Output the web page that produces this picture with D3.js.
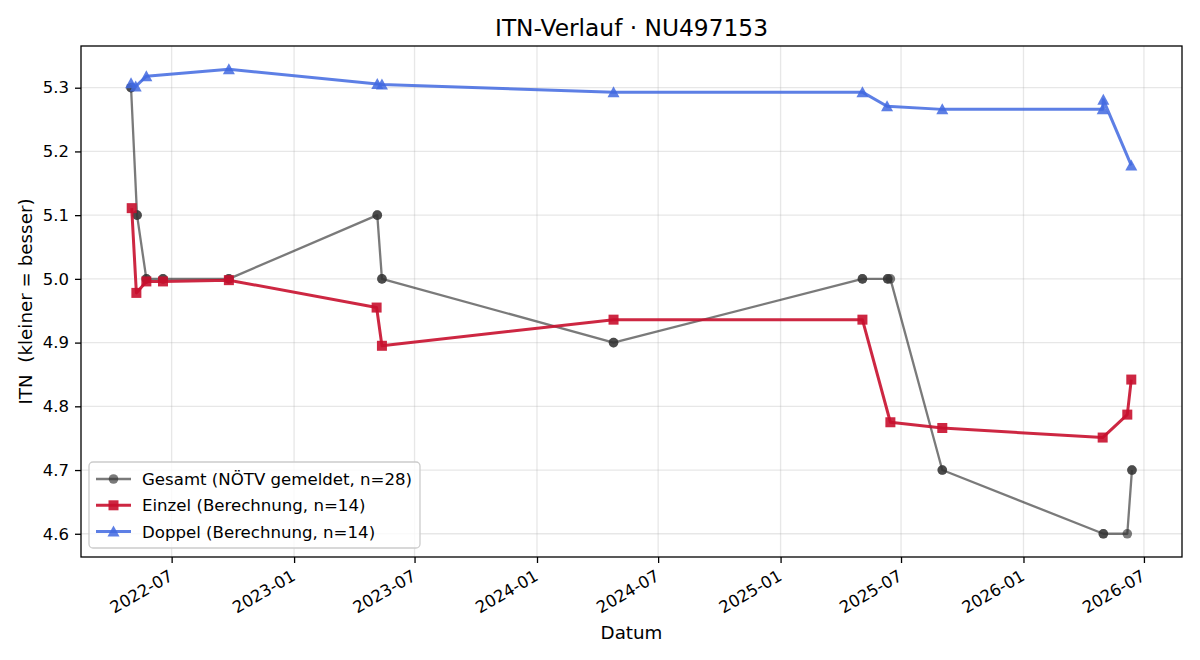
<!DOCTYPE html>
<html>
<head>
<meta charset="utf-8">
<script src="https://cdn.jsdelivr.net/npm/d3@7"></script>
<style>
body{margin:0;background:#fff;}
text{font-family:"DejaVu Sans",sans-serif;fill:#000;}
</style>
</head>
<body>
<div id="container"></div>
<script>
let w = 1200;
let h = 660;
let pLeft = 81, pRight = 1182, pTop = 46, pBottom = 557;

// DATA
// Gesamt: every report, so most dates show up twice (singles + doubles)
let gesamtDates = ["2022-05-01","2022-05-01","2022-05-10","2022-05-10","2022-05-24","2022-05-24",
  "2022-06-18","2022-06-18","2022-09-25","2022-09-25","2023-05-06","2023-05-06","2023-05-13","2023-05-13",
  "2024-04-25","2024-04-25","2025-05-04","2025-05-04","2025-06-11","2025-06-11","2025-06-15",
  "2025-09-01","2025-09-01","2026-05-01","2026-05-01","2026-06-06","2026-06-13","2026-06-13"];
let gesamtValues = [5.3,5.3,5.1,5.1,5.0,5.0,5.0,5.0,5.0,5.0,5.1,5.1,5.0,5.0,
  4.9,4.9,5.0,5.0,5.0,5.0,5.0,4.7,4.7,4.6,4.6,4.6,4.7,4.7];

let einzelDates = ["2022-05-02","2022-05-09","2022-05-24","2022-06-18","2022-09-25","2023-05-05","2023-05-13",
  "2024-04-25","2025-05-04","2025-06-15","2025-09-01","2026-04-30","2026-06-06","2026-06-12"];
let einzelValues = [5.111,4.978,4.996,4.996,4.998,4.955,4.895,4.936,4.936,4.775,4.766,4.751,4.787,4.842];

let doppelDates = ["2022-05-01","2022-05-08","2022-05-24","2022-09-25","2023-05-06","2023-05-13",
  "2024-04-25","2025-05-04","2025-06-10","2025-09-01","2026-04-30","2026-05-01","2026-06-12"];
let doppelValues = [5.307,5.302,5.318,5.329,5.306,5.305,5.293,5.293,5.271,5.266,5.266,5.281,5.178];

let legendLabels = ["Gesamt (NÖTV gemeldet, n=28)","Einzel (Berechnung, n=14)","Doppel (Berechnung, n=14)"];
let yTicks = [4.6,4.7,4.8,4.9,5.0,5.1,5.2,5.3];

let parse = d3.utcParse("%Y-%m-%d");
function pts(dates, values){
  return dates.map(function(d,i){ return {date:parse(d), value:values[i]}; });
}
let series = [
  {name:legendLabels[0], data:pts(gesamtDates,gesamtValues), color:"#333333", alpha:0.65, lw:2.3, shape:"circle"},
  {name:legendLabels[1], data:pts(einzelDates,einzelValues), color:"#c8102e", alpha:0.9, lw:3, shape:"square"},
  {name:legendLabels[2], data:pts(doppelDates,doppelValues), color:"#4169e1", alpha:0.85, lw:3, shape:"triangle"}
];

let viz = d3.select("#container").append("svg")
    .attr("width", w)
    .attr("height", h)
    .style("background-color", "white");

// SCALES, with matplotlib's 5% margins
let allPts = series.flatMap(function(s){ return s.data; });
let xExt = d3.extent(allPts, function(d){ return d.date; });
let xPad = (xExt[1] - xExt[0]) * 0.05;
let xScale = d3.scaleUtc()
    .domain([new Date(+xExt[0] - xPad), new Date(+xExt[1] + xPad)])
    .range([pLeft, pRight]);
let yExt = d3.extent(allPts, function(d){ return d.value; });
let yPad = (yExt[1] - yExt[0]) * 0.05;
let yScale = d3.scaleLinear()
    .domain([yExt[0] - yPad, yExt[1] + yPad])
    .range([pBottom, pTop]);

let xTicks = d3.utcMonth.every(6).range(xScale.domain()[0], xScale.domain()[1]);

// GRID
viz.append("g").selectAll("line").data(xTicks).enter().append("line")
    .attr("x1", function(d){ return xScale(d); })
    .attr("x2", function(d){ return xScale(d); })
    .attr("y1", pTop).attr("y2", pBottom)
    .attr("stroke", "#b0b0b0").attr("stroke-opacity", 0.3).attr("stroke-width", 1.3);
viz.append("g").selectAll("line").data(yTicks).enter().append("line")
    .attr("y1", function(d){ return yScale(d); })
    .attr("y2", function(d){ return yScale(d); })
    .attr("x1", pLeft).attr("x2", pRight)
    .attr("stroke", "#b0b0b0").attr("stroke-opacity", 0.3).attr("stroke-width", 1.3);

// AXES
let xAxis = d3.axisBottom(xScale).tickValues(xTicks).tickFormat(d3.utcFormat("%Y-%m")).tickSizeOuter(0).tickSize(6).tickPadding(6);
let gx = viz.append("g").attr("transform", "translate(0," + pBottom + ")").call(xAxis);
gx.select(".domain").remove();
gx.selectAll(".tick line").attr("stroke", "#000").attr("stroke-width", 1.3);
gx.selectAll(".tick text")
    .style("font-size", "16.5px")
    .attr("text-anchor", "end")
    .attr("dy", "0.72em")
    .attr("y", 0).attr("x", 0)
    .attr("transform", "translate(-4,12) rotate(-30)");

let yAxis = d3.axisLeft(yScale).tickValues(yTicks).tickFormat(d3.format(".1f")).tickSize(6).tickPadding(6);
let gy = viz.append("g").attr("transform", "translate(" + pLeft + ",0)").call(yAxis);
gy.select(".domain").remove();
gy.selectAll(".tick line").attr("stroke", "#000").attr("stroke-width", 1.3);
gy.selectAll(".tick text").style("font-size", "16.5px");

// LINES + MARKERS
let lineMaker = d3.line()
    .x(function(d){ return xScale(d.date); })
    .y(function(d){ return yScale(d.value); });

function marker(sel, shape, x, y){
  if(shape == "circle"){
    sel.append("circle").attr("cx", x).attr("cy", y).attr("r", 4.8);
  }else if(shape == "square"){
    sel.append("rect").attr("x", x-5).attr("y", y-5).attr("width", 10).attr("height", 10);
  }else{
    sel.append("path").attr("d", "M" + x + "," + (y-6) + "L" + (x+6) + "," + (y+5) + "L" + (x-6) + "," + (y+5) + "Z");
  }
}

let plot = viz.append("g");
series.forEach(function(s){
  plot.append("path")
      .datum(s.data)
      .attr("d", lineMaker)
      .attr("fill", "none")
      .attr("stroke", s.color)
      .attr("stroke-opacity", s.alpha)
      .attr("stroke-width", s.lw)
      .attr("stroke-linejoin", "round");
  let mg = plot.append("g")
      .attr("fill", s.color).attr("fill-opacity", s.alpha);
  s.data.forEach(function(d){
    marker(mg, s.shape, xScale(d.date), yScale(d.value));
  });
});

// FRAME
viz.append("rect")
    .attr("x", pLeft).attr("y", pTop)
    .attr("width", pRight-pLeft).attr("height", pBottom-pTop)
    .attr("fill", "none").attr("stroke", "#000").attr("stroke-width", 1.3);

// LEGEND
let lg = viz.append("g");
lg.append("rect")
    .attr("x", 89).attr("y", 462).attr("width", 331).attr("height", 86).attr("rx", 4)
    .attr("fill", "white").attr("fill-opacity", 0.8)
    .attr("stroke", "#cccccc").attr("stroke-width", 1.3);
series.forEach(function(s,i){
  let y = 479 + i*26.3;
  lg.append("line")
      .attr("x1", 96).attr("x2", 131).attr("y1", y).attr("y2", y)
      .attr("stroke", s.color).attr("stroke-opacity", s.alpha).attr("stroke-width", s.lw);
  let mg = lg.append("g").attr("fill", s.color).attr("fill-opacity", s.alpha);
  marker(mg, s.shape, 113.5, y);
  lg.append("text")
      .attr("x", 142).attr("y", y).attr("dy", "0.36em")
      .style("font-size", "16.6px")
      .text(s.name);
});

// TITLES
viz.append("text")
    .attr("x", (pLeft+pRight)/2).attr("y", 36)
    .attr("text-anchor", "middle")
    .style("font-size", "23.3px")
    .text("ITN-Verlauf · NU497153");
viz.append("text")
    .attr("x", (pLeft+pRight)/2).attr("y", 639)
    .attr("text-anchor", "middle")
    .style("font-size", "18.3px")
    .text("Datum");
viz.append("text")
    .attr("transform", "translate(32," + ((pTop+pBottom)/2) + ") rotate(-90)")
    .attr("text-anchor", "middle")
    .style("font-size", "18.3px")
    .style("white-space", "pre")
    .text("ITN  (kleiner = besser)");
</script>
</body>
</html>
